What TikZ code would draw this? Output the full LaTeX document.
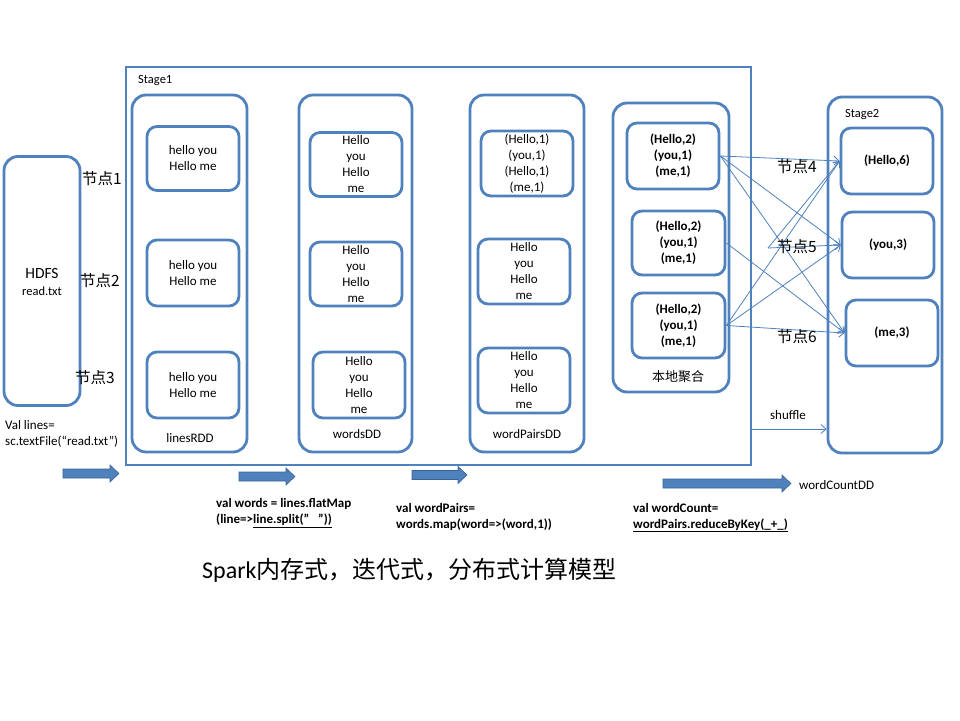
\documentclass[tikz,border=0pt]{standalone}
\usepackage{fontspec}
\setmainfont{Carlito}
\newfontfamily\cjk{Noto Sans CJK SC}
\usetikzlibrary{arrows.meta}
\definecolor{bl}{HTML}{4F81BD}
\definecolor{bldark}{HTML}{3A6396}
\newcommand{\barrow}[3]{\filldraw[fill=bl,draw=bldark,line width=0.6pt] (#1,#3-4.5) -- (#2-9,#3-4.5) -- (#2-9,#3-8.5) -- (#2,#3) -- (#2-9,#3+8.5) -- (#2-9,#3+4.5) -- (#1,#3+4.5) -- cycle;}
\tikzset{
  colbox/.style={draw=bl, line width=2.8pt, rounded corners=14pt, inner sep=0pt},
  inbox/.style={draw=bl, line width=2.8pt, rounded corners=10pt, inner sep=0pt, align=center, font=\fontsize{13}{16}\selectfont},
  boldbox/.style={inbox, font=\bfseries\fontsize{13}{16}\selectfont},
  lbl/.style={inner sep=0pt, font=\fontsize{13}{16}\selectfont},
  small/.style={inner sep=0pt, font=\fontsize{12.5}{15}\selectfont},
  cn/.style={inner sep=0pt, font=\cjk\fontsize{15.5}{18}\selectfont},
  code/.style={inner sep=0pt, align=left, font=\bfseries\fontsize{13}{16}\selectfont},
  link/.style={draw=bl, line width=0.8pt, -{Straight Barb[length=5pt,width=9pt]}}
}
\begin{document}
\begin{tikzpicture}[x=1pt,y=-1pt]
\useasboundingbox (0,0) rectangle (960,720);
% HDFS
\node[colbox, minimum width=76pt, minimum height=249pt] (hdfs) at (42,281) {};
\node[inner sep=0pt, font=\fontsize{15.5}{18}\selectfont] (hdfst) at (42,274) {HDFS};
\node[inner sep=0pt, font=\fontsize{12.5}{15}\selectfont] (readt) at (42,291) {read.txt};
\node[cn] (n1) at (102,179) {节点1};
\node[cn] (n2) at (100,281) {节点2};
\node[cn] (n3) at (95,378) {节点3};
\node[lbl, anchor=west, align=left] (vallines) at (5,434) {Val lines=\\sc.textFile(“read.txt”)};
% Stage1
\node[draw=bl, line width=2.8pt, minimum width=625pt, minimum height=398pt, inner sep=0pt] (stage1) at (438.5,266) {};
\node[small, anchor=west] (st1) at (138,81) {Stage1};
% column 1
\node[colbox, minimum width=115pt, minimum height=357pt] (c1) at (189.5,273.5) {};
\node[inbox, minimum width=92pt, minimum height=64pt] (b11) at (193,158.5) {hello you\\Hello me};
\node[inbox, minimum width=92pt, minimum height=66pt] (b12) at (193,273) {hello you\\Hello me};
\node[inbox, minimum width=92pt, minimum height=66pt] (b13) at (193,385) {hello you\\Hello me};
\node[lbl] (l1) at (190,438) {linesRDD};
% column 2
\node[colbox, minimum width=113pt, minimum height=357pt] (c2) at (355.5,273.5) {};
\node[inbox, minimum width=92pt, minimum height=64pt] (b21) at (356,164.5) {Hello\\you\\Hello\\me};
\node[inbox, minimum width=92pt, minimum height=64pt] (b22) at (356,274) {Hello\\you\\Hello\\me};
\node[inbox, minimum width=92pt, minimum height=66pt] (b23) at (359,385) {Hello\\you\\Hello\\me};
\node[lbl] (l2) at (357,434) {wordsDD};
% column 3
\node[colbox, minimum width=114pt, minimum height=357pt] (c3) at (527,273.5) {};
\node[inbox, minimum width=92pt, minimum height=65pt] (b31) at (527,163.5) {(Hello,1)\\(you,1)\\(Hello,1)\\(me,1)};
\node[inbox, minimum width=92pt, minimum height=65pt] (b32) at (524,271.5) {Hello\\you\\Hello\\me};
\node[inbox, minimum width=92pt, minimum height=65pt] (b33) at (524,380.5) {Hello\\you\\Hello\\me};
\node[lbl] (l3) at (527,434) {wordPairsDD};
% column 4
\node[colbox, minimum width=116pt, minimum height=289pt] (c4) at (671,247.5) {};
\node[boldbox, minimum width=92pt, minimum height=66pt] (b41) at (673,156) {(Hello,2)\\(you,1)\\(me,1)};
\node[boldbox, minimum width=93pt, minimum height=64pt] (b42) at (678.5,243) {(Hello,2)\\(you,1)\\(me,1)};
\node[boldbox, minimum width=93pt, minimum height=65pt] (b43) at (678.5,325.5) {(Hello,2)\\(you,1)\\(me,1)};
\node[inner sep=0pt, font=\cjk\fontsize{13}{16}\selectfont] (l4) at (678,377) {本地聚合};
% Stage2
\node[colbox, minimum width=114pt, minimum height=356pt] (c5) at (885,275) {};
\node[small, anchor=west] (st2) at (845,115) {Stage2};
\node[boldbox, minimum width=92pt, minimum height=66pt] (b51) at (887,161) {(Hello,6)};
\node[boldbox, minimum width=92pt, minimum height=66pt] (b52) at (888,245) {(you,3)};
\node[boldbox, minimum width=92pt, minimum height=66pt] (b53) at (892,333) {(me,3)};
% shuffle connectors
\coordinate (apex) at (768,248);
\draw[link] (b41.east) -- (b51.west);
\draw[link] (b41.east) -- (b52.west);
\draw[link] (b41.east) -- (b53.west);
\draw[link] (b42.east) -- (b53.west);
\draw[link] (apex) -- (b51.west);
\draw[link] (apex) -- (b52.west);
\draw[link] (b43.east) -- (b51.west);
\draw[link] (b43.east) -- (b52.west);
\draw[link] (b43.east) -- (b53.west);
\node[cn] (n4) at (797,167) {节点4};
\node[cn] (n5) at (797,247) {节点5};
\node[cn] (n6) at (797,337) {节点6};
\coordinate (sh1) at (751,429);
\draw[link] (sh1) -- (sh1 -| c5.west);
\node[lbl] (shuf) at (788,415) {shuffle};
% block arrows
\barrow{63}{119}{473.5}
\barrow{239}{295}{476.5}
\barrow{412}{467}{475}
\barrow{663}{791}{483.5}
\node[lbl, anchor=west] (wc) at (799,485) {wordCountDD};
% code
\node[code, anchor=west] (code1) at (216,513) {val words = lines.flatMap\\(line=>\underline{line.split("\ \ \ "))}};
\node[code, anchor=west] (code2) at (396,517) {val wordPairs=\\words.map(word=>(word,1))};
\node[code, anchor=west] (code3) at (633,517.5) {val wordCount=\\\underline{wordPairs.reduceByKey(\_+\_)}};
% title
\node[inner sep=0pt, anchor=west, font=\fontsize{24}{28}\selectfont] (title) at (202,570) {Spark{\cjk 内存式，迭代式，分布式计算模型}};
\end{tikzpicture}
\end{document}
